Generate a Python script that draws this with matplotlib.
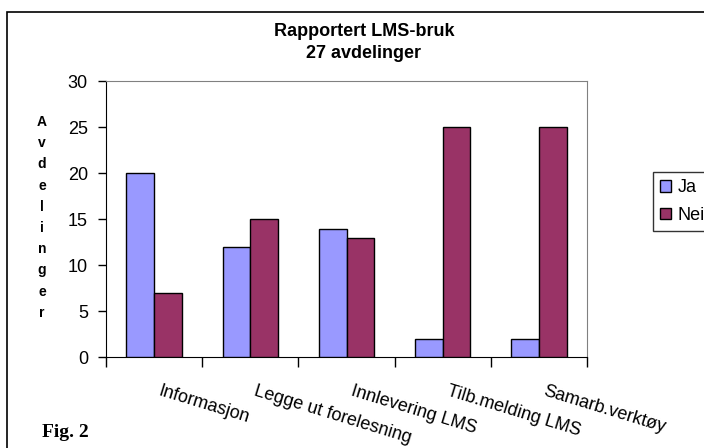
import matplotlib
matplotlib.use("Agg")
import matplotlib.pyplot as plt
from matplotlib.patches import Rectangle
import numpy as np

categories = ["Informasjon", "Legge ut forelesning", "Innlevering LMS", "Tilb.melding LMS", "Samarb.verktøy"]
ja = [20, 12, 14, 2, 2]
nei = [7, 15, 13, 25, 25]
series_names = ["Ja", "Nei"]
title_lines = ["Rapportert LMS-bruk", "27 avdelinger"]
ylabel = "Avdelinger"
fig_label = "Fig. 2"

W, H = 704, 448
fig = plt.figure(figsize=(W / 100, H / 100), dpi=100)
plt.rcParams['font.family'] = ['Liberation Sans', 'DejaVu Sans']

# outer frame
fig.patches.append(Rectangle((7 / W, -0.1), 1.2, 1 - 12 / H + 0.1, transform=fig.transFigure,
                             fill=False, edgecolor='black', linewidth=1.2))

ax = fig.add_axes([106 / W, 1 - 357.3 / H, (587 - 106) / W, 276 / H])
x = np.arange(len(categories))
bw = 0.288
ax.bar(x - bw / 2, ja, bw, color='#9999FF', edgecolor='black', linewidth=1, label=series_names[0], zorder=3)
ax.bar(x + bw / 2, nei, bw, color='#993366', edgecolor='black', linewidth=1, label=series_names[1], zorder=3)

ax.set_xlim(-0.5, len(categories) - 0.5)
ax.set_ylim(0, 30)
ax.set_yticks(range(0, 31, 5))
ax.tick_params(axis='y', direction='out', length=6, labelsize=13, pad=7, width=1)
ax.set_xticks(np.arange(-0.5, len(categories), 1))
ax.set_xticklabels([])
ax.tick_params(axis='x', direction='out', length=7, width=1)

for s in ['top', 'right']:
    ax.spines[s].set_color('#808080')
for s in ['left', 'bottom']:
    ax.spines[s].set_color('black')

for xi, lab in zip(x, categories):
    ax.annotate(lab, xy=(xi, 0), xycoords=('data', 'axes fraction'), xytext=(7, -25),
                textcoords='offset pixels', rotation=-17, rotation_mode='anchor',
                ha='left', va='top', fontsize=13)

# titles
fig.text(364 / W, 1 - 32 / H, title_lines[0], ha='center', va='center', fontsize=13, fontweight='bold')
fig.text(364 / W, 1 - 54 / H, title_lines[1], ha='center', va='center', fontsize=13, fontweight='bold')

# stacked y label
for i, ch in enumerate(ylabel):
    fig.text(42 / W, 1 - (122 + i * 21.2) / H, ch.lower() if i else ch, ha='center', va='center',
             fontsize=10, fontweight='bold')

# legend
leg = fig.legend(loc='upper left', bbox_to_anchor=(653 / W, 1 - 172 / H), fontsize=13,
                 frameon=True, fancybox=False, edgecolor='black', handlelength=0.6, handleheight=0.6,
                 handletextpad=0.35, borderpad=0.4, labelspacing=0.6, borderaxespad=0)
leg.get_frame().set_linewidth(1)

fig.text(42 / W, 1 - 432 / H, fig_label, ha='left', va='center', fontsize=14, fontweight='bold',
         family=['Liberation Serif', 'DejaVu Serif'])

fig.savefig("out.png", dpi=100)
